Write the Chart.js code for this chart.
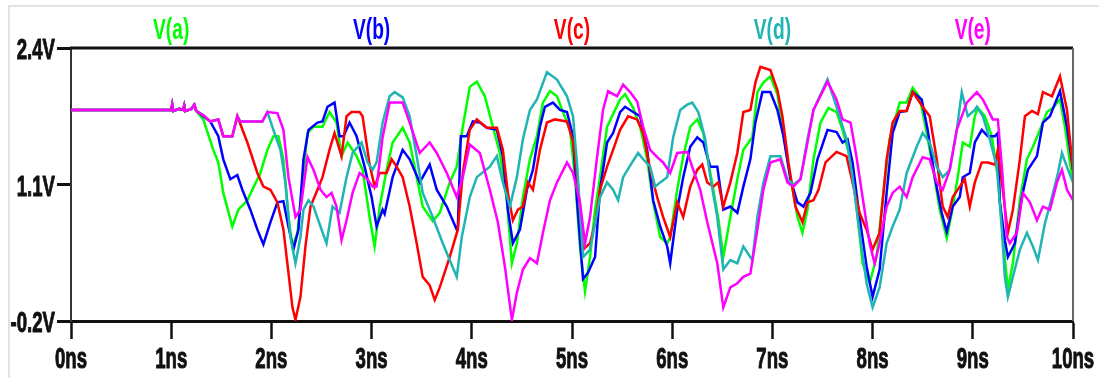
<!DOCTYPE html>
<html>
<head>
<meta charset="utf-8">
<script src="https://cdn.jsdelivr.net/npm/chart.js@4.4.1/dist/chart.umd.min.js"></script>
<style>
  html, body { margin: 0; padding: 0; background: #fff; }
  #wrap { position: relative; width: 1099px; height: 378px; overflow: hidden; }
  #frame { position: absolute; left: 8px; top: 5px; width: 1200px; height: 500px;
           border-left: 2px solid #e2e2e2; border-top: 2px solid #e2e2e2; }
  canvas { position: absolute; left: 0; top: 0; }
</style>
</head>
<body>
<div id="wrap"><div id="frame"></div><canvas id="c" width="1099" height="378"></canvas></div>
<script>
// ---- data (time in ns, voltage in V) ----
const seriesNames = ['V(a)', 'V(b)', 'V(c)', 'V(d)', 'V(e)'];
const seriesColors = ['#00ff00', '#0000ff', '#ff0000', '#20b4b4', '#ff00ff'];
const xTickValues = [0, 1, 2, 3, 4, 5, 6, 7, 8, 9, 10];
const xTickLabels = ['0ns','1ns','2ns','3ns','4ns','5ns','6ns','7ns','8ns','9ns','10ns'];
const yTickValues = [-0.2, 1.1, 2.4];
const yTickLabels = ['-0.2V', '1.1V', '2.4V'];

// common idle segment shared by all nodes
const idle = [[0,1.81],[1.0,1.81],[1.01,1.86],[1.02,1.80],[1.08,1.82],[1.12,1.81],[1.13,1.85],[1.14,1.80],[1.20,1.82],[1.23,1.86],[1.25,1.80]];

const va = [[1.32,1.72],[1.42,1.43],[1.47,1.31],[1.52,1.02],[1.61,0.70],[1.67,0.86],[1.76,0.95],[1.89,1.21],[1.96,1.43],[2.02,1.56],[2.07,1.56],[2.12,1.34],[2.17,0.79],[2.21,0.51],[2.26,0.64],[2.31,1.12],[2.36,1.59],[2.42,1.65],[2.51,1.65],[2.58,1.79],[2.65,1.69],[2.70,1.37],[2.76,1.50],[2.85,1.37],[2.91,1.24],[2.98,0.79],[3.03,0.51],[3.08,0.88],[3.15,1.24],[3.21,1.50],[3.31,1.64],[3.38,1.50],[3.45,1.17],[3.51,0.89],[3.61,0.75],[3.68,0.83],[3.78,1.12],[3.85,1.27],[3.91,1.65],[3.98,2.03],[4.05,2.08],[4.13,1.94],[4.21,1.65],[4.28,1.40],[4.35,0.95],[4.40,0.35],[4.45,0.54],[4.51,0.98],[4.58,1.34],[4.65,1.56],[4.71,1.88],[4.78,1.99],[4.85,1.94],[4.91,1.79],[4.98,1.62],[5.03,1.17],[5.08,0.50],[5.13,0.08],[5.18,0.41],[5.23,0.86],[5.28,1.17],[5.35,1.65],[5.41,1.77],[5.48,1.91],[5.53,1.96],[5.61,1.83],[5.68,1.65],[5.75,1.34],[5.81,0.93],[5.88,0.60],[5.95,0.54],[5.98,0.60],[6.05,1.05],[6.11,1.37],[6.18,1.65],[6.25,1.72],[6.31,1.59],[6.38,1.21],[6.46,0.78],[6.51,0.41],[6.58,0.79],[6.65,1.15],[6.71,1.43],[6.80,1.55],[6.85,1.98],[6.91,2.07],[6.98,2.13],[7.05,1.96],[7.11,1.59],[7.18,1.17],[7.25,0.79],[7.30,0.64],[7.35,0.86],[7.41,1.34],[7.48,1.69],[7.56,1.83],[7.64,1.79],[7.70,1.62],[7.78,1.34],[7.84,0.89],[7.90,0.35],[7.97,0.16],[8.04,0.41],[8.10,0.95],[8.17,1.53],[8.27,1.88],[8.34,1.88],[8.40,2.02],[8.47,1.93],[8.54,1.59],[8.60,1.27],[8.67,0.86],[8.74,0.59],[8.79,0.83],[8.85,1.17],[8.90,1.50],[8.97,1.46],[9.02,1.75],[9.05,1.83],[9.12,1.75],[9.19,1.56],[9.25,1.17],[9.30,0.60],[9.35,0.10],[9.40,0.35],[9.47,0.95],[9.54,1.34],[9.60,1.46],[9.67,1.62],[9.74,1.79],[9.80,1.83],[9.87,1.91],[9.92,1.65],[9.97,1.31],[10.0,1.12]];

const vb = [[1.32,1.75],[1.39,1.70],[1.47,1.56],[1.52,1.34],[1.59,1.15],[1.66,1.19],[1.71,1.05],[1.79,0.86],[1.86,0.67],[1.92,0.53],[1.99,0.74],[2.06,0.93],[2.12,0.94],[2.17,0.70],[2.22,0.48],[2.27,0.67],[2.32,1.34],[2.37,1.62],[2.46,1.69],[2.51,1.70],[2.56,1.84],[2.63,1.88],[2.68,1.56],[2.72,1.56],[2.78,1.69],[2.85,1.56],[2.93,1.27],[3.00,0.98],[3.05,0.70],[3.11,0.86],[3.13,0.82],[3.21,1.17],[3.31,1.43],[3.38,1.34],[3.48,1.12],[3.58,1.29],[3.65,1.05],[3.75,0.89],[3.85,0.67],[3.86,0.67],[3.89,1.56],[3.95,1.56],[4.01,1.70],[4.08,1.69],[4.15,1.64],[4.25,1.62],[4.31,1.37],[4.36,0.86],[4.41,0.54],[4.48,0.67],[4.55,1.05],[4.61,1.24],[4.68,1.65],[4.73,1.84],[4.81,1.88],[4.88,1.81],[4.95,1.79],[5.01,1.56],[5.05,0.95],[5.11,0.20],[5.16,0.26],[5.23,0.41],[5.28,1.05],[5.35,1.50],[5.41,1.59],[5.48,1.79],[5.53,1.84],[5.61,1.79],[5.68,1.75],[5.75,1.43],[5.81,0.95],[5.88,0.70],[5.95,0.51],[5.98,0.35],[6.05,0.86],[6.11,1.17],[6.18,1.46],[6.25,1.55],[6.31,1.50],[6.38,1.27],[6.45,1.27],[6.51,0.86],[6.58,0.89],[6.65,0.83],[6.71,1.08],[6.78,1.34],[6.83,1.69],[6.90,1.98],[6.98,1.98],[7.05,1.81],[7.11,1.56],[7.18,1.15],[7.25,0.93],[7.31,0.89],[7.38,1.02],[7.45,1.34],[7.55,1.62],[7.64,1.60],[7.70,1.50],[7.75,1.53],[7.80,1.31],[7.87,0.79],[7.94,0.32],[8.00,0.03],[8.07,0.29],[8.14,1.02],[8.20,1.59],[8.27,1.79],[8.34,1.80],[8.40,1.98],[8.49,1.91],[8.55,1.62],[8.62,1.17],[8.69,0.83],[8.74,0.65],[8.80,0.89],[8.87,0.98],[8.90,1.17],[8.97,1.21],[9.02,1.50],[9.09,1.62],[9.15,1.56],[9.22,1.56],[9.25,1.59],[9.27,0.93],[9.32,0.57],[9.35,0.41],[9.42,0.54],[9.49,0.98],[9.55,1.24],[9.64,1.37],[9.70,1.69],[9.77,1.75],[9.87,1.99],[9.94,1.65],[10.0,1.24]];

const vc = [[1.32,1.76],[1.39,1.70],[1.47,1.72],[1.52,1.56],[1.61,1.56],[1.66,1.75],[1.76,1.50],[1.86,1.21],[1.92,1.08],[1.99,1.05],[2.06,0.93],[2.12,0.67],[2.17,0.26],[2.21,-0.07],[2.24,-0.19],[2.29,0.03],[2.34,0.51],[2.39,0.89],[2.46,1.05],[2.51,1.17],[2.58,1.43],[2.63,1.59],[2.70,1.37],[2.75,1.75],[2.80,1.79],[2.88,1.79],[2.91,1.75],[2.98,1.29],[3.03,1.08],[3.08,1.21],[3.15,1.21],[3.20,1.34],[3.25,1.27],[3.31,1.17],[3.38,0.89],[3.45,0.54],[3.51,0.22],[3.58,0.14],[3.63,0.00],[3.68,0.12],[3.78,0.41],[3.86,0.67],[3.91,1.21],[3.98,1.62],[4.05,1.72],[4.15,1.64],[4.25,1.64],[4.31,1.43],[4.36,1.02],[4.41,0.76],[4.46,0.86],[4.51,0.89],[4.56,1.12],[4.61,1.05],[4.68,1.43],[4.75,1.69],[4.83,1.72],[4.95,1.70],[5.01,1.51],[5.06,1.10],[5.11,0.48],[5.18,0.54],[5.23,0.73],[5.28,1.05],[5.35,1.27],[5.41,1.43],[5.48,1.62],[5.56,1.75],[5.65,1.72],[5.71,1.59],[5.78,1.24],[5.85,0.98],[5.91,0.79],[5.98,0.60],[6.05,0.93],[6.11,0.79],[6.18,1.08],[6.25,1.24],[6.30,1.29],[6.35,1.12],[6.41,1.08],[6.46,1.12],[6.51,0.89],[6.58,1.12],[6.65,1.40],[6.71,1.79],[6.78,1.81],[6.83,2.07],[6.88,2.22],[6.98,2.19],[7.05,2.00],[7.10,1.75],[7.16,1.31],[7.23,0.89],[7.30,0.74],[7.35,0.93],[7.41,0.95],[7.46,1.05],[7.53,1.31],[7.64,1.41],[7.74,1.37],[7.80,1.12],[7.87,0.83],[7.94,0.67],[8.00,0.48],[8.07,0.64],[8.14,1.34],[8.20,1.69],[8.27,1.80],[8.34,1.80],[8.40,1.98],[8.50,1.84],[8.57,1.75],[8.64,1.34],[8.70,0.89],[8.75,0.79],[8.80,0.98],[8.87,1.08],[8.92,1.15],[8.97,0.89],[9.02,1.12],[9.09,1.31],[9.15,1.31],[9.22,1.29],[9.25,1.43],[9.29,1.12],[9.35,0.64],[9.40,0.86],[9.47,1.34],[9.52,1.75],[9.59,1.80],[9.65,1.77],[9.70,1.98],[9.79,1.94],[9.87,2.13],[9.94,1.81],[10.0,1.24]];

const vd = [[1.32,1.76],[1.39,1.70],[1.47,1.72],[1.52,1.56],[1.61,1.56],[1.66,1.75],[1.69,1.70],[1.91,1.70],[1.96,1.79],[2.02,1.62],[2.09,1.43],[2.14,1.12],[2.19,0.60],[2.24,0.35],[2.29,0.60],[2.32,0.86],[2.37,0.95],[2.42,0.89],[2.49,0.70],[2.55,0.54],[2.61,0.89],[2.68,0.83],[2.75,1.17],[2.81,1.40],[2.90,1.50],[2.96,1.31],[3.01,1.24],[3.05,1.31],[3.11,1.69],[3.18,1.94],[3.23,1.98],[3.31,1.93],[3.38,1.75],[3.45,1.37],[3.51,1.02],[3.61,0.79],[3.71,0.54],[3.85,0.22],[3.90,0.60],[3.98,0.98],[4.05,1.17],[4.18,1.27],[4.25,1.37],[4.31,1.12],[4.38,0.89],[4.45,1.17],[4.51,1.53],[4.58,1.81],[4.65,1.91],[4.75,2.17],[4.85,2.10],[4.95,1.94],[5.01,1.75],[5.05,1.30],[5.11,0.41],[5.18,0.48],[5.23,0.73],[5.28,0.98],[5.35,1.12],[5.41,1.05],[5.46,0.95],[5.51,1.17],[5.60,1.31],[5.66,1.40],[5.71,1.34],[5.78,1.27],[5.83,1.08],[5.88,1.12],[5.95,1.17],[6.01,1.55],[6.08,1.81],[6.15,1.86],[6.20,1.88],[6.26,1.79],[6.33,1.53],[6.38,1.17],[6.45,0.79],[6.51,0.29],[6.58,0.38],[6.65,0.35],[6.71,0.51],[6.80,0.38],[6.85,0.79],[6.91,1.12],[6.98,1.37],[7.08,1.37],[7.15,1.15],[7.21,1.10],[7.28,1.15],[7.35,1.53],[7.41,1.81],[7.55,2.10],[7.64,1.84],[7.74,1.53],[7.80,1.17],[7.87,0.64],[7.94,0.16],[8.00,-0.07],[8.07,0.12],[8.14,0.54],[8.20,0.70],[8.27,0.86],[8.34,1.21],[8.44,1.46],[8.50,1.59],[8.57,1.50],[8.64,1.27],[8.70,1.17],[8.77,1.24],[8.84,1.62],[8.89,1.98],[8.95,1.75],[9.02,1.81],[9.04,1.84],[9.10,1.75],[9.17,1.53],[9.24,1.27],[9.29,0.67],[9.32,0.22],[9.35,0.03],[9.40,0.22],[9.47,0.48],[9.54,0.64],[9.60,0.51],[9.65,0.38],[9.72,0.73],[9.79,0.98],[9.85,1.21],[9.89,1.40],[9.95,1.24],[10.0,1.12]];

const ve = [[1.32,1.76],[1.39,1.70],[1.47,1.72],[1.52,1.56],[1.61,1.56],[1.66,1.75],[1.69,1.70],[1.91,1.70],[1.96,1.79],[2.06,1.78],[2.12,1.62],[2.17,1.17],[2.24,0.79],[2.29,0.86],[2.36,1.36],[2.42,1.24],[2.49,1.05],[2.55,0.98],[2.60,1.02],[2.65,0.89],[2.70,0.57],[2.75,0.76],[2.81,1.02],[2.88,1.21],[2.96,1.15],[3.01,1.08],[3.05,1.08],[3.11,1.55],[3.18,1.88],[3.31,1.88],[3.38,1.69],[3.48,1.40],[3.58,1.50],[3.65,1.40],[3.75,1.21],[3.85,0.98],[3.91,1.17],[3.98,1.48],[4.08,1.40],[4.18,1.05],[4.26,0.74],[4.33,0.32],[4.40,-0.19],[4.45,0.07],[4.51,0.29],[4.58,0.40],[4.65,0.35],[4.71,0.64],[4.78,0.95],[4.85,1.12],[4.95,1.31],[5.01,1.21],[5.08,0.93],[5.13,0.54],[5.18,0.79],[5.25,1.36],[5.31,1.81],[5.36,1.99],[5.45,1.94],[5.51,2.05],[5.58,1.98],[5.65,1.89],[5.71,1.65],[5.78,1.43],[5.85,1.36],[5.91,1.31],[5.98,1.21],[6.05,1.40],[6.15,1.41],[6.21,1.24],[6.28,1.05],[6.35,0.74],[6.45,0.35],[6.51,-0.07],[6.58,0.12],[6.65,0.16],[6.71,0.22],[6.78,0.25],[6.85,0.67],[6.91,1.05],[6.98,1.31],[7.08,1.34],[7.15,1.12],[7.21,1.08],[7.28,1.15],[7.35,1.50],[7.41,1.81],[7.55,2.08],[7.64,1.91],[7.70,1.72],[7.78,1.69],[7.84,1.36],[7.90,0.98],[7.97,0.54],[8.02,0.35],[8.07,0.54],[8.14,0.89],[8.20,1.02],[8.27,1.08],[8.34,0.98],[8.40,1.17],[8.50,1.36],[8.57,1.34],[8.64,1.12],[8.70,1.05],[8.77,1.24],[8.84,1.62],[8.94,1.88],[9.04,1.98],[9.10,1.91],[9.20,1.72],[9.25,1.72],[9.29,1.27],[9.34,0.60],[9.37,0.54],[9.44,0.64],[9.50,1.02],[9.57,0.93],[9.64,0.76],[9.70,0.89],[9.77,0.86],[9.84,1.12],[9.89,1.24],[9.94,1.05],[10.0,0.95]];

const seriesValues = [va, vb, vc, vd, ve];

// ---- chart ----
function condText(ctx, text, x, y, align, sx, strokeW) {
  ctx.save();
  ctx.translate(x, y);
  ctx.scale(sx, 1);
  ctx.textAlign = align;
  ctx.textBaseline = 'alphabetic';
  ctx.fillText(text, 0, 0);
  if (strokeW) {
    ctx.lineWidth = strokeW;
    ctx.strokeStyle = ctx.fillStyle;
    ctx.lineJoin = 'round';
    ctx.strokeText(text, 0, 0);
  }
  ctx.restore();
}

const ltPlugin = {
  id: 'ltspice',
  afterDatasetsDraw(chart) {
    const ctx = chart.ctx, a = chart.chartArea;
    ctx.save();
    ctx.lineCap = 'butt';
    ctx.strokeStyle = '#111';
    ctx.lineWidth = 3;
    ctx.beginPath(); ctx.moveTo(a.left - 1, a.top); ctx.lineTo(a.right, a.top); ctx.stroke();
    ctx.strokeStyle = '#666';
    ctx.lineWidth = 2;
    ctx.beginPath(); ctx.moveTo(a.right, a.top); ctx.lineTo(a.right, a.bottom); ctx.stroke();
    ctx.restore();
  },
  afterDraw(chart) {
    const ctx = chart.ctx, a = chart.chartArea;
    const xs = chart.scales.x, ys = chart.scales.y;
    ctx.save();
    ctx.fillStyle = '#111';
    ctx.font = 'bold 30px "Liberation Sans", Arial, sans-serif';
    yTickValues.forEach((v, i) => {
      condText(ctx, yTickLabels[i], a.left - 16, ys.getPixelForValue(v) + 11, 'right', 0.62, 1);
    });
    xTickValues.forEach((v, i) => {
      condText(ctx, xTickLabels[i], xs.getPixelForValue(v), 368, 'center', 0.62, 1);
    });
    ctx.font = 'bold 30px "Liberation Sans", Arial, sans-serif';
    const n = seriesNames.length;
    seriesNames.forEach((name, i) => {
      ctx.fillStyle = seriesColors[i];
      const cx = a.left + (a.right - a.left) * (2 * i + 1) / (2 * n);
      condText(ctx, name, cx, 39, 'center', 0.64, 0);
    });
    ctx.restore();
  }
};

const datasets = seriesNames.map((name, i) => ({
  label: name,
  data: idle.concat(seriesValues[i]).map(p => ({ x: p[0], y: p[1] })),
  borderColor: seriesColors[i],
  backgroundColor: seriesColors[i],
  borderWidth: 2.5,
  pointRadius: 0,
  tension: 0,
  fill: false,
  order: seriesNames.length - i
}));

new Chart(document.getElementById('c'), {
  type: 'line',
  data: { datasets },
  plugins: [ltPlugin],
  options: {
    responsive: false,
    animation: false,
    devicePixelRatio: 1,
    layout: { padding: { left: 0, right: 26, top: 48, bottom: 0 } },
    plugins: { legend: { display: false }, tooltip: { enabled: false }, title: { display: false } },
    scales: {
      x: {
        type: 'linear', min: 0, max: 10,
        afterBuildTicks(s) { s.ticks = xTickValues.map(v => ({ value: v })); },
        ticks: { display: false },
        grid: { drawOnChartArea: false, drawTicks: true, tickLength: 18, tickWidth: 2.5, tickColor: '#111' },
        border: { display: true, color: '#111', width: 3 },
        afterFit(s) { s.height = 57; }
      },
      y: {
        type: 'linear', min: -0.2, max: 2.4,
        afterBuildTicks(s) { s.ticks = yTickValues.map(v => ({ value: v })); },
        ticks: { display: false },
        grid: { drawOnChartArea: false, drawTicks: true, tickLength: 14, tickWidth: 3, tickColor: '#111' },
        border: { display: true, color: '#333', width: 2 },
        afterFit(s) { s.width = 71; }
      }
    }
  }
});
</script>
</body>
</html>
